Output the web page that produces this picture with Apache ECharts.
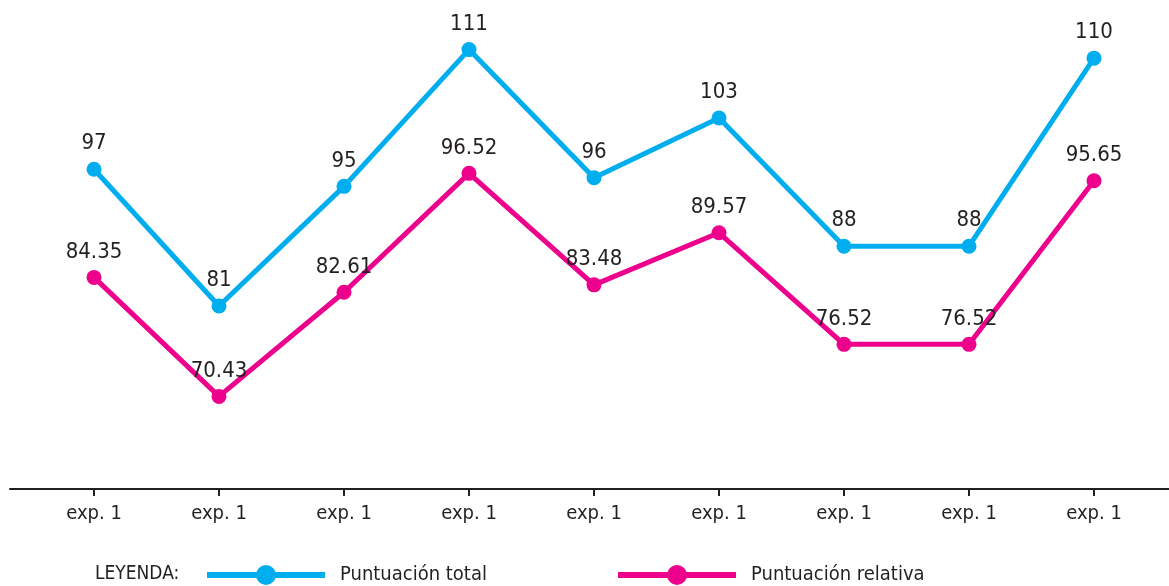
<!DOCTYPE html>
<html>
<head>
<meta charset="utf-8">
<script src="https://cdn.jsdelivr.net/npm/echarts@6/dist/echarts.min.js"></script>
<style>
  html, body { margin: 0; padding: 0; background: #fff; }
  #main { width: 1169px; height: 586px; }
</style>
</head>
<body>
<div id="main"></div>
<script>
const categories = ['exp. 1', 'exp. 1', 'exp. 1', 'exp. 1', 'exp. 1', 'exp. 1', 'exp. 1', 'exp. 1', 'exp. 1'];
const totalScores = [97, 81, 95, 111, 96, 103, 88, 88, 110];
const relativeScores = [84.35, 70.43, 82.61, 96.52, 83.48, 89.57, 76.52, 76.52, 95.65];
const seriesNames = ['Puntuación total', 'Puntuación relativa'];

const FONT = "'Liberation Sans Narrow', 'DejaVu Sans Condensed', 'Roboto Condensed', sans-serif";
const TEXT = '#231f20';
const BLUE = '#00aeef';
const PINK = '#ec008c';

const chart = echarts.init(document.getElementById('main'));

function lineSeries(name, data, color) {
  return {
    name: name,
    type: 'line',
    data: data,
    symbol: 'circle',
    symbolSize: 15,
    lineStyle: { width: 5, color: color },
    itemStyle: { color: color },
    label: {
      show: true,
      position: 'top',
      distance: 7,
      color: TEXT,
      fontSize: 22,
      fontFamily: FONT
    },
    animation: false,
    z: 3
  };
}

// legend item shared settings
function legendFor(name, left) {
  return {
    data: [name],
    left: left,
    top: 560,
    itemWidth: 118,
    itemHeight: 25,
    lineStyle: { width: 6 },
    textStyle: { color: TEXT, fontSize: 20, fontFamily: FONT, padding: [0, 0, 0, 10] },
    selectedMode: false
  };
}

const option = {
  backgroundColor: '#fff',
  grid: [
    { left: 31.5, right: 12.5, top: 0, bottom: 97 },
    { left: 10, right: 0, top: 0, bottom: 97 }
  ],
  xAxis: [
    {
      type: 'category',
      gridIndex: 0,
      data: categories,
      axisLine: { show: false },
      axisTick: { show: true, alignWithLabel: true, length: 7, lineStyle: { color: TEXT, width: 2 } },
      axisLabel: { color: TEXT, fontSize: 20, fontFamily: FONT, margin: 15 },
      splitLine: { show: false }
    },
    {
      type: 'value',
      gridIndex: 1,
      min: 0,
      max: 1,
      axisLine: { show: true, lineStyle: { color: TEXT, width: 2 } },
      axisTick: { show: false },
      axisLabel: { show: false },
      splitLine: { show: false }
    }
  ],
  yAxis: [
    { type: 'value', gridIndex: 0, show: false, min: 59.6, max: 116.8 },
    { type: 'value', gridIndex: 1, show: false, min: 0, max: 1 }
  ],
  legend: [
    legendFor(seriesNames[0], 199),
    legendFor(seriesNames[1], 610)
  ],
  graphic: [
    {
      type: 'text',
      left: 95,
      top: 565,
      style: { text: 'LEYENDA:', fill: TEXT, font: '19px ' + FONT }
    }
  ],
  series: [
    lineSeries(seriesNames[0], totalScores, BLUE),
    lineSeries(seriesNames[1], relativeScores, PINK)
  ]
};

chart.setOption(option);
</script>
</body>
</html>
